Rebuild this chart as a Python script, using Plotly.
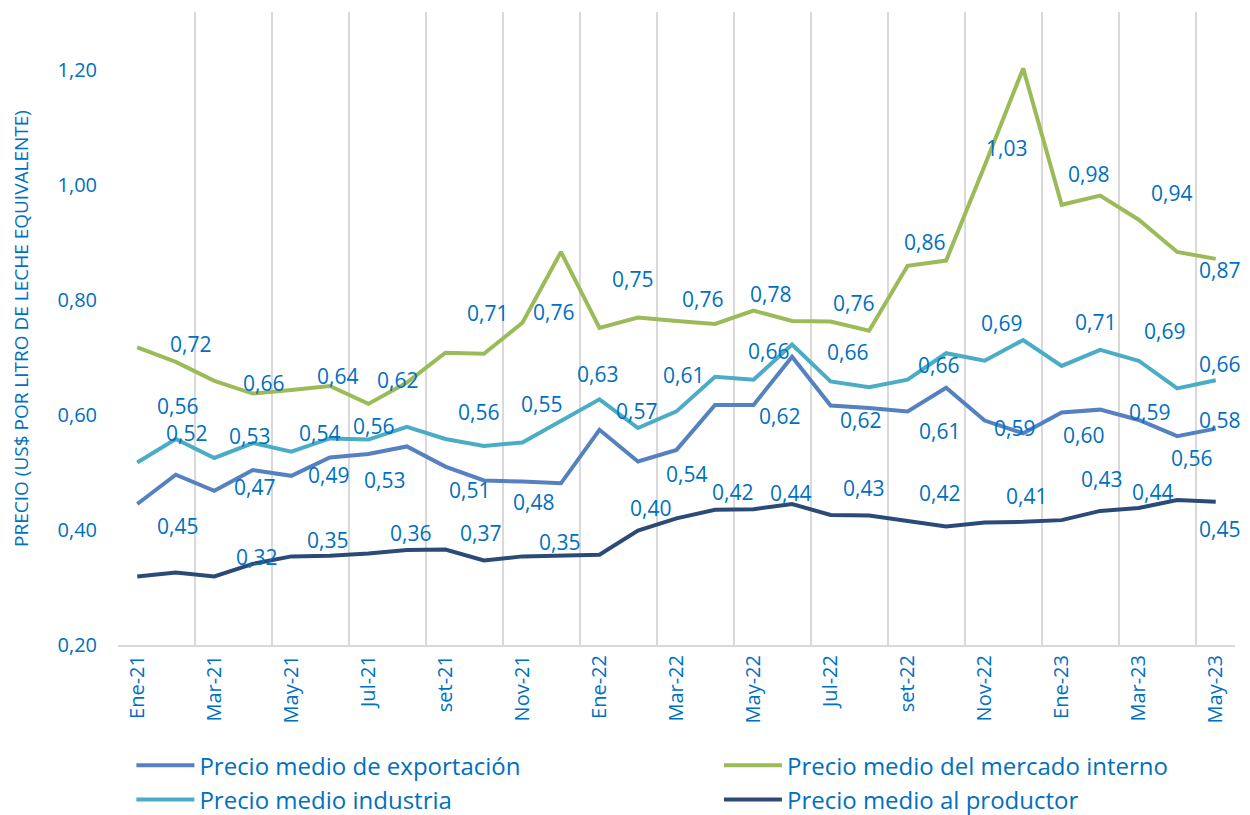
import plotly.graph_objects as go

months = ["Ene-21", "Feb-21", "Mar-21", "Abr-21", "May-21", "Jun-21", "Jul-21", "Ago-21",
          "set-21", "Oct-21", "Nov-21", "Dic-21", "Ene-22", "Feb-22", "Mar-22", "Abr-22",
          "May-22", "Jun-22", "Jul-22", "Ago-22", "set-22", "Oct-22", "Nov-22", "Dic-22",
          "Ene-23", "Feb-23", "Mar-23", "Abr-23", "May-23"]

exportacion = [0.445, 0.496, 0.468, 0.504, 0.494, 0.526, 0.532, 0.545, 0.510, 0.486,
               0.484, 0.481, 0.574, 0.519, 0.539, 0.617, 0.617, 0.701, 0.616, 0.612,
               0.606, 0.647, 0.590, 0.568, 0.604, 0.609, 0.591, 0.563, 0.576]

mercado_interno = [0.717, 0.692, 0.659, 0.637, 0.643, 0.650, 0.619, 0.656, 0.708, 0.706,
                   0.760, 0.883, 0.751, 0.769, 0.763, 0.758, 0.781, 0.763, 0.762, 0.746,
                   0.859, 0.868, 1.033, 1.202, 0.965, 0.981, 0.939, 0.883, 0.871]

industria = [0.517, 0.558, 0.525, 0.551, 0.536, 0.559, 0.557, 0.579, 0.558, 0.546,
             0.552, 0.590, 0.627, 0.577, 0.606, 0.666, 0.661, 0.722, 0.658, 0.648,
             0.661, 0.707, 0.694, 0.730, 0.685, 0.713, 0.694, 0.646, 0.660]

productor = [0.319, 0.326, 0.319, 0.341, 0.354, 0.355, 0.359, 0.365, 0.366, 0.347,
             0.354, 0.355, 0.357, 0.399, 0.420, 0.435, 0.436, 0.445, 0.426, 0.425,
             0.416, 0.406, 0.413, 0.414, 0.417, 0.433, 0.438, 0.452, 0.449]

# indices of the points that carry a data label
lab_exportacion = [0, 2, 4, 6, 8, 10, 12, 14, 16, 18, 20, 22, 24, 26, 27, 28]
lab_mercado = [0, 2, 4, 6, 8, 10, 12, 14, 16, 18, 20, 22, 25, 26, 28]
lab_industria = [0, 1, 2, 4, 6, 8, 10, 12, 14, 16, 18, 20, 22, 25, 26, 28]
lab_productor = [2, 4, 6, 8, 10, 13, 14, 16, 18, 20, 22, 25, 26, 28]

# label offsets in pixels (dx right, dy down) - style only
off_exportacion = [(40, 22), (40, -4), (37, -1), (16, 26), (24, 23), (11, 20), (37, -19), (10, 24),
                   (26, 11), (30, 14), (32, 20), (30, 7), (22, 22), (11, -8), (14, 22), (4, -9)]
off_mercado = [(53, -3), (49, 2), (46, -14), (29, -24), (42, -40), (31, -11), (33, -49), (26, -22),
               (17, -17), (23, -19), (17, -24), (22, -18), (-12, -22), (33, -27), (4, 11)]
off_industria = [(49, -30), (2, -33), (35, -22), (28, -19), (5, -14), (33, -27), (19, -38), (-2, -25),
                 (7, -36), (15, -29), (17, -29), (31, -15), (17, -38), (-5, -28), (26, -30), (4, -16)]
off_productor = [(42, -20), (36, -16), (42, -21), (35, -16), (37, -14), (13, -22), (56, -26), (37, -16),
                 (33, -27), (32, -28), (42, -26), (1, -32), (14, -16), (4, 27)]

series = [
    ("Precio medio de exportación", exportacion, "#5581c1", lab_exportacion, off_exportacion, "legend"),
    ("Precio medio del mercado interno", mercado_interno, "#9bbb59", lab_mercado, off_mercado, "legend2"),
    ("Precio medio industria", industria, "#4bacc6", lab_industria, off_industria, "legend"),
    ("Precio medio al productor", productor, "#2c4a78", lab_productor, off_productor, "legend2"),
]

label_color = "#0070c0"
font_family = "Open Sans, Noto Sans, sans-serif"

fig = go.Figure()
annotations = []
for name, vals, color, idxs, offs, leg in series:
    fig.add_trace(go.Scatter(x=months, y=vals, mode="lines", name=name, legend=leg,
                             line=dict(color=color, width=4)))
    for i, (dx, dy) in zip(idxs, offs):
        annotations.append(dict(
            x=months[i], y=vals[i], xref="x", yref="y",
            text=f"{vals[i]:.2f}".replace(".", ","),
            showarrow=False, xanchor="center", yanchor="middle",
            xshift=dx, yshift=-dy,
            font=dict(family=font_family, size=21, color=label_color)))

legend_common = dict(orientation="v", xanchor="left", yanchor="top", y=-0.155,
                     font=dict(family=font_family, size=24, color=label_color),
                     bgcolor="rgba(0,0,0,0)", tracegroupgap=0, itemwidth=58)

fig.update_layout(
    width=1242, height=807,
    margin=dict(l=110, r=15, t=4, b=170, autoexpand=False),
    plot_bgcolor="white", paper_bgcolor="white",
    annotations=annotations,
    showlegend=True,
    legend=dict(x=0.012, **legend_common),
    legend2=dict(x=0.538, **legend_common),
    separators=",.",
)

fig.update_xaxes(
    type="category", tickmode="linear", dtick=2, tick0=0,
    tickson="boundaries", ticks="outside", ticklen=9, tickcolor="rgba(0,0,0,0)",
    tickangle=-90,
    showgrid=True, gridcolor="#d9d9d9", gridwidth=2,
    showline=True, linecolor="#d9d9d9", linewidth=2,
    tickfont=dict(family=font_family, size=20, color=label_color),
    range=[-0.5, 28.5], automargin=False,
)
fig.update_yaxes(
    range=[0.2, 1.3], tickmode="linear", tick0=0.2, dtick=0.2,
    tickformat=".2f",
    showgrid=False, zeroline=False, showline=False,
    ticks="outside", ticklen=16, tickcolor="rgba(0,0,0,0)",
    tickfont=dict(family=font_family, size=20, color=label_color),
    automargin=False,
    title=dict(text="PRECIO (US$ POR LITRO DE LECHE EQUIVALENTE)",
               font=dict(family=font_family, size=19, color=label_color), standoff=23),
)

fig.write_html("out.html")
